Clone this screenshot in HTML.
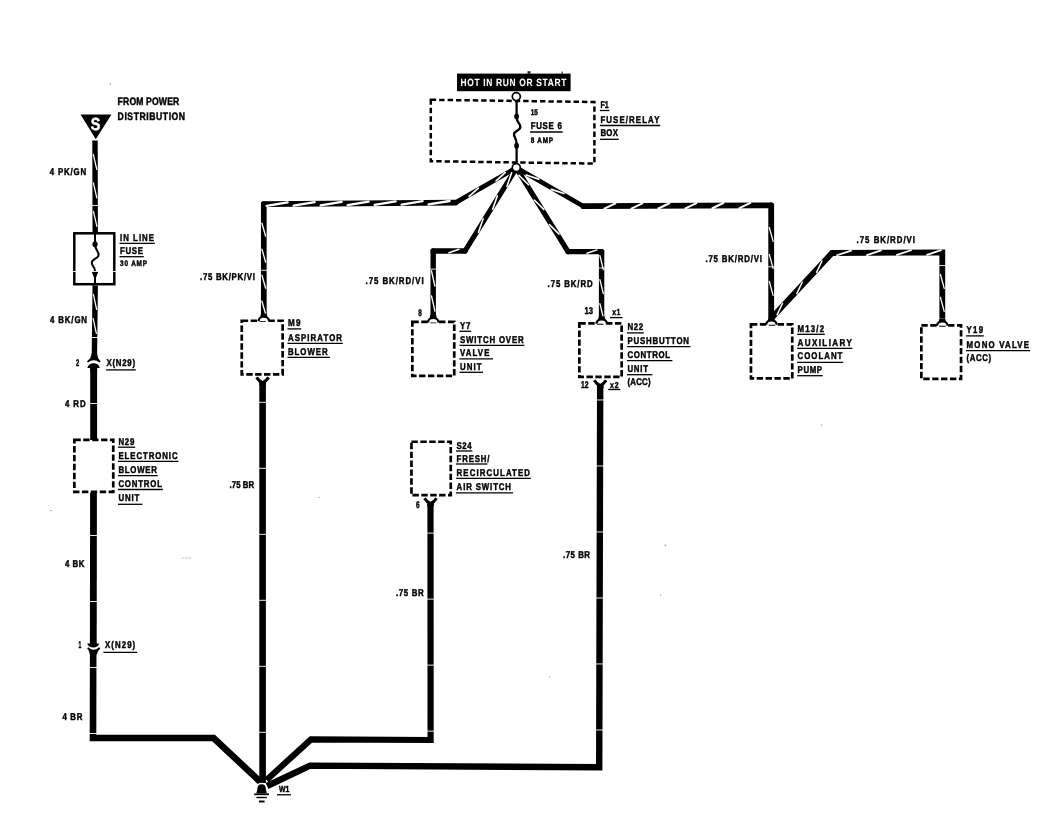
<!DOCTYPE html>
<html lang="en"><head><meta charset="utf-8"><title>Wiring diagram</title>
<style>html,body{margin:0;padding:0;background:#fff}svg{display:block;will-change:transform}</style></head>
<body>
<svg width="1037" height="825" viewBox="0 0 1037 825" font-family="'Liberation Sans', sans-serif" font-weight="bold" text-rendering="geometricPrecision">
<rect width="1037" height="825" fill="#fff"/>
<polygon points="80.6,114.4 111.4,114.4 95.8,139.2" fill="#000"/>
<text x="95.6" y="130.4" font-size="17.4" text-anchor="middle" fill="#fff" stroke="#fff" stroke-width="0.5" textLength="9.6" lengthAdjust="spacingAndGlyphs">S</text>
<polyline points="95,140.4 95.2,232.5" fill="none" stroke="#000" stroke-width="5.4" stroke-linejoin="miter" stroke-linecap="butt"/>
<line x1="93.33" y1="154.4" x2="96.76" y2="169.4" stroke="#fff" stroke-width="1.25" stroke-linecap="round"/>
<line x1="93.39" y1="182.9" x2="96.82" y2="197.9" stroke="#fff" stroke-width="1.25" stroke-linecap="round"/>
<line x1="93.45" y1="211.4" x2="96.89" y2="226.4" stroke="#fff" stroke-width="1.25" stroke-linecap="round"/>
<line x1="90.6" y1="205.49" x2="99.6" y2="205.49" stroke="#fff" stroke-width="0.9"/>
<rect x="74.3" y="233.3" width="40" height="50.9" fill="none" stroke="#000" stroke-width="2.5"/>
<path d="M95,234 L95,244 C95,250 98.8,251 98.6,255 C98.4,259 91.6,258.5 91.8,263 C92,267 95,266.5 95,271 L95,284" fill="none" stroke="#000" stroke-width="2"/>
<ellipse cx="95" cy="244.2" rx="2.6" ry="3"/>
<path d="M92.2,271.6 L97.8,271.6 L95.4,277.8 L94.6,277.8 Z" stroke="#000" stroke-width="1" stroke-linejoin="round"/>
<line x1="73" y1="271.49" x2="117" y2="271.49" stroke="#fff" stroke-width="0.9"/>
<polyline points="95.2,285.4 94.4,356" fill="none" stroke="#000" stroke-width="5.4" stroke-linejoin="miter" stroke-linecap="butt"/>
<line x1="93.4" y1="294.38" x2="96.63" y2="309.42" stroke="#fff" stroke-width="1.25" stroke-linecap="round"/>
<line x1="93.13" y1="318.38" x2="96.36" y2="333.42" stroke="#fff" stroke-width="1.25" stroke-linecap="round"/>
<line x1="90.3" y1="337.49" x2="99.3" y2="337.49" stroke="#fff" stroke-width="0.9"/>
<path d="M91.7,353 Q91.6,358 86.9,361.4 L88.1,362.6 Q93.7,357.8 99.5,362.6 L100.6,361.4 Q97.2,358 97.1,353 Z" fill="#000"/>
<path d="M87.3,368 Q88.5,363.4 93.6,363.3 Q98.9,363.4 99.8,368 L97.1,368 L97.1,372 L90.2,372 L90.2,368 Z" fill="#000"/>
<polyline points="93.65,368 93.65,440" fill="none" stroke="#000" stroke-width="6.9" stroke-linejoin="miter" stroke-linecap="butt"/>
<line x1="89.15" y1="403.5" x2="98.15" y2="403.5" stroke="#fff" stroke-width="0.9"/>
<rect x="74.35" y="439.95" width="38.9" height="51.9" fill="none" stroke="#000" stroke-width="2.7" stroke-dasharray="6.4 2.5"/>
<polyline points="93.5,492.5 93.3,644.5" fill="none" stroke="#000" stroke-width="6.8" stroke-linejoin="miter" stroke-linecap="butt"/>
<line x1="88.9" y1="535.5" x2="97.9" y2="535.5" stroke="#fff" stroke-width="0.9"/>
<line x1="88.9" y1="601.5" x2="97.9" y2="601.5" stroke="#fff" stroke-width="0.9"/>
<path d="M87.2,643.4 L99.2,643.4 Q98,647.3 93.4,647.4 Q88.4,647.3 87.2,643.4 Z" fill="#000"/>
<path d="M87.2,648.5 L88.4,647.3 Q93.6,652.3 99,647.3 L100.3,648.6 Q97,651.4 96.8,654.5 L90,654.5 Q89.9,651.4 87.2,648.5 Z" fill="#000"/>
<polyline points="93.2,652 93,738 213.6,738 260.5,782" fill="none" stroke="#000" stroke-width="6.6" stroke-linejoin="miter" stroke-linecap="butt"/>
<line x1="88.6" y1="667.51" x2="97.6" y2="667.51" stroke="#fff" stroke-width="0.9"/>
<line x1="88.6" y1="733.51" x2="97.6" y2="733.51" stroke="#fff" stroke-width="0.9"/>
<rect x="457" y="73.6" width="113.6" height="17.6" fill="#000"/>
<polygon points="430.8,99.8 594.4,102 594.4,163.6 430.8,161.2" fill="none" stroke="#000" stroke-width="2.5" stroke-dasharray="5.4 3"/>
<line x1="516.6" y1="100" x2="516.6" y2="164" stroke="#000" stroke-width="2.3"/>
<path d="M516.6,118 C516.6,123 520.4,123.5 520.2,127 C520,131 514,130.5 514.2,134.5 C514.4,138 516.6,138 516.6,143" fill="none" stroke="#000" stroke-width="2"/>
<rect x="514" y="117.5" width="5.2" height="26" fill="#fff"/>
<path d="M516.6,117 C516.6,123 520.6,123.5 520.4,127 C520.2,131 513.8,130.5 514,134.5 C514.2,138 516.6,138 516.6,144" fill="none" stroke="#000" stroke-width="2.3"/>
<ellipse cx="516.6" cy="116.4" rx="2.4" ry="3"/>
<ellipse cx="516.6" cy="145.8" rx="2.4" ry="3"/>
<line x1="514.5" y1="168.8" x2="455.6" y2="202.6" stroke="#000" stroke-width="4.7" stroke-linecap="round"/>
<line x1="455.6" y1="202.6" x2="263.8" y2="204.2" stroke="#000" stroke-width="5.7" stroke-linecap="round"/>
<line x1="263.8" y1="204.2" x2="263.8" y2="315" stroke="#000" stroke-width="5.7" stroke-linecap="round"/>
<line x1="505.15" y1="172.61" x2="496.09" y2="180.92" stroke="#fff" stroke-width="1.7" stroke-linecap="round"/>
<line x1="478.27" y1="188.04" x2="469.2" y2="196.35" stroke="#fff" stroke-width="1.7" stroke-linecap="round"/>
<line x1="449.59" y1="201" x2="428.61" y2="204.48" stroke="#fff" stroke-width="2.3" stroke-linecap="round"/>
<line x1="422.59" y1="201.23" x2="401.62" y2="204.7" stroke="#fff" stroke-width="2.3" stroke-linecap="round"/>
<line x1="395.59" y1="201.45" x2="374.62" y2="204.93" stroke="#fff" stroke-width="2.3" stroke-linecap="round"/>
<line x1="368.59" y1="201.68" x2="347.62" y2="205.15" stroke="#fff" stroke-width="2.3" stroke-linecap="round"/>
<line x1="341.59" y1="201.9" x2="320.62" y2="205.38" stroke="#fff" stroke-width="2.3" stroke-linecap="round"/>
<line x1="314.59" y1="202.13" x2="293.62" y2="205.6" stroke="#fff" stroke-width="2.3" stroke-linecap="round"/>
<line x1="287.59" y1="202.35" x2="266.62" y2="205.83" stroke="#fff" stroke-width="2.3" stroke-linecap="round"/>
<line x1="261.95" y1="223.2" x2="265.65" y2="236.2" stroke="#fff" stroke-width="1.3" stroke-linecap="round"/>
<line x1="261.95" y1="249.2" x2="265.65" y2="262.2" stroke="#fff" stroke-width="1.3" stroke-linecap="round"/>
<line x1="261.95" y1="275.2" x2="265.65" y2="288.2" stroke="#fff" stroke-width="1.3" stroke-linecap="round"/>
<line x1="261.95" y1="301.2" x2="265.65" y2="314.2" stroke="#fff" stroke-width="1.3" stroke-linecap="round"/>
<line x1="259.3" y1="270.31" x2="268.3" y2="270.31" stroke="#fff" stroke-width="0.9"/>
<line x1="515.6" y1="169.4" x2="465" y2="251" stroke="#000" stroke-width="5.2" stroke-linecap="round"/>
<line x1="465" y1="251" x2="433.2" y2="251" stroke="#000" stroke-width="5.4" stroke-linecap="round"/>
<line x1="433.2" y1="251" x2="433.2" y2="316" stroke="#000" stroke-width="5.4" stroke-linecap="round"/>
<line x1="511.61" y1="172.81" x2="506.95" y2="186.39" stroke="#fff" stroke-width="1.6" stroke-linecap="round"/>
<line x1="497.38" y1="195.75" x2="492.72" y2="209.34" stroke="#fff" stroke-width="1.6" stroke-linecap="round"/>
<line x1="483.15" y1="218.7" x2="478.49" y2="232.28" stroke="#fff" stroke-width="1.6" stroke-linecap="round"/>
<line x1="459" y1="249.3" x2="449" y2="252.7" stroke="#fff" stroke-width="1.5" stroke-linecap="round"/>
<line x1="431.5" y1="271" x2="434.9" y2="286" stroke="#fff" stroke-width="1.3" stroke-linecap="round"/>
<line x1="431.5" y1="296" x2="434.9" y2="311" stroke="#fff" stroke-width="1.3" stroke-linecap="round"/>
<line x1="428.7" y1="269.13" x2="437.7" y2="269.13" stroke="#fff" stroke-width="0.9"/>
<line x1="517.2" y1="169.4" x2="568" y2="251.6" stroke="#000" stroke-width="5.2" stroke-linecap="round"/>
<line x1="568" y1="251.6" x2="601.6" y2="251.6" stroke="#000" stroke-width="5.4" stroke-linecap="round"/>
<line x1="601.6" y1="251.6" x2="601.6" y2="317" stroke="#000" stroke-width="5.4" stroke-linecap="round"/>
<line x1="518.99" y1="175.35" x2="528.55" y2="184.72" stroke="#fff" stroke-width="1.6" stroke-linecap="round"/>
<line x1="534.24" y1="200.01" x2="543.8" y2="209.39" stroke="#fff" stroke-width="1.6" stroke-linecap="round"/>
<line x1="549.48" y1="224.68" x2="559.04" y2="234.06" stroke="#fff" stroke-width="1.6" stroke-linecap="round"/>
<line x1="587" y1="253.3" x2="597" y2="249.9" stroke="#fff" stroke-width="1.5" stroke-linecap="round"/>
<line x1="599.9" y1="255.6" x2="603.3" y2="269.6" stroke="#fff" stroke-width="1.3" stroke-linecap="round"/>
<line x1="599.9" y1="279.6" x2="603.3" y2="293.6" stroke="#fff" stroke-width="1.3" stroke-linecap="round"/>
<line x1="599.9" y1="303.6" x2="603.3" y2="317.6" stroke="#fff" stroke-width="1.3" stroke-linecap="round"/>
<line x1="597.1" y1="267.95" x2="606.1" y2="267.95" stroke="#fff" stroke-width="0.9"/>
<line x1="518.2" y1="168.8" x2="583.4" y2="206.2" stroke="#000" stroke-width="4.7" stroke-linecap="round"/>
<line x1="583.4" y1="206.2" x2="771.2" y2="205.4" stroke="#000" stroke-width="5.8" stroke-linecap="round"/>
<line x1="771.2" y1="205.4" x2="771.2" y2="317" stroke="#000" stroke-width="5.8" stroke-linecap="round"/>
<line x1="526.2" y1="174.95" x2="538.82" y2="179.07" stroke="#fff" stroke-width="1.7" stroke-linecap="round"/>
<line x1="551.36" y1="189.38" x2="563.98" y2="193.5" stroke="#fff" stroke-width="1.7" stroke-linecap="round"/>
<line x1="604.41" y1="208.71" x2="615.39" y2="203.46" stroke="#fff" stroke-width="2.0" stroke-linecap="round"/>
<line x1="631.41" y1="208.6" x2="642.39" y2="203.35" stroke="#fff" stroke-width="2.0" stroke-linecap="round"/>
<line x1="658.41" y1="208.48" x2="669.39" y2="203.23" stroke="#fff" stroke-width="2.0" stroke-linecap="round"/>
<line x1="685.41" y1="208.37" x2="696.39" y2="203.12" stroke="#fff" stroke-width="2.0" stroke-linecap="round"/>
<line x1="712.41" y1="208.25" x2="723.39" y2="203" stroke="#fff" stroke-width="2.0" stroke-linecap="round"/>
<line x1="739.41" y1="208.14" x2="750.39" y2="202.89" stroke="#fff" stroke-width="2.0" stroke-linecap="round"/>
<line x1="769.3" y1="227.4" x2="773.1" y2="241.4" stroke="#fff" stroke-width="1.3" stroke-linecap="round"/>
<line x1="769.3" y1="254.4" x2="773.1" y2="268.4" stroke="#fff" stroke-width="1.3" stroke-linecap="round"/>
<line x1="769.3" y1="281.4" x2="773.1" y2="295.4" stroke="#fff" stroke-width="1.3" stroke-linecap="round"/>
<line x1="766.7" y1="266.76" x2="775.7" y2="266.76" stroke="#fff" stroke-width="0.9"/>
<polyline points="771.6,318 832,253 942.3,252.4 942.3,318" fill="none" stroke="#000" stroke-width="5.8" stroke-linejoin="miter" stroke-linecap="butt"/>
<line x1="777.08" y1="314.9" x2="782.46" y2="303.52" stroke="#fff" stroke-width="1.5" stroke-linecap="round"/>
<line x1="796.82" y1="293.65" x2="802.2" y2="282.28" stroke="#fff" stroke-width="1.5" stroke-linecap="round"/>
<line x1="816.56" y1="272.41" x2="821.94" y2="261.03" stroke="#fff" stroke-width="1.5" stroke-linecap="round"/>
<line x1="837.01" y1="255.27" x2="850.99" y2="250.6" stroke="#fff" stroke-width="1.8" stroke-linecap="round"/>
<line x1="867.01" y1="255.11" x2="880.99" y2="250.43" stroke="#fff" stroke-width="1.8" stroke-linecap="round"/>
<line x1="897.01" y1="254.95" x2="910.99" y2="250.27" stroke="#fff" stroke-width="1.8" stroke-linecap="round"/>
<line x1="927.01" y1="254.78" x2="940.99" y2="250.11" stroke="#fff" stroke-width="1.8" stroke-linecap="round"/>
<line x1="940.4" y1="274.4" x2="944.2" y2="288.4" stroke="#fff" stroke-width="1.3" stroke-linecap="round"/>
<line x1="940.4" y1="297.4" x2="944.2" y2="311.4" stroke="#fff" stroke-width="1.3" stroke-linecap="round"/>
<line x1="937.8" y1="265.56" x2="946.8" y2="265.56" stroke="#fff" stroke-width="0.9"/>
<circle cx="516.3" cy="96.6" r="4" fill="#fff" stroke="#000" stroke-width="1.7"/>
<circle cx="516.3" cy="167.6" r="4" fill="#fff" stroke="#000" stroke-width="1.7"/>
<rect x="241.75" y="320.75" width="40.9" height="53.7" fill="none" stroke="#000" stroke-width="2.7" stroke-dasharray="6.4 2.5"/>
<rect x="412.35" y="321.95" width="41.9" height="53.9" fill="none" stroke="#000" stroke-width="2.7" stroke-dasharray="6.4 2.5"/>
<rect x="411.45" y="441.75" width="39.3" height="53.4" fill="none" stroke="#000" stroke-width="2.7" stroke-dasharray="6.4 2.5"/>
<rect x="579.35" y="323.35" width="42.3" height="53.5" fill="none" stroke="#000" stroke-width="2.7" stroke-dasharray="6.4 2.5"/>
<rect x="750.95" y="324.35" width="41.3" height="54.1" fill="none" stroke="#000" stroke-width="2.7" stroke-dasharray="6.4 2.5"/>
<rect x="921.35" y="325.35" width="39.7" height="53.5" fill="none" stroke="#000" stroke-width="2.7" stroke-dasharray="6.4 2.5"/>
<path d="M258.6,321.2 C258.6,315.2 269,315.2 269,321.2" fill="#fff" stroke="#000" stroke-width="2.2"/>
<path d="M261,313.6 L260.2,317 L267.4,317 L266.6,313.6 Z" fill="#000"/>
<path d="M428,322.4 C428,316.4 438.4,316.4 438.4,322.4" fill="#fff" stroke="#000" stroke-width="2.2"/>
<path d="M430.4,314.8 L429.6,318.2 L436.8,318.2 L436,314.8 Z" fill="#000"/>
<path d="M596.5,323.8 C596.5,317.8 606.9,317.8 606.9,323.8" fill="#fff" stroke="#000" stroke-width="2.2"/>
<path d="M598.9,316.2 L598.1,319.6 L605.3,319.6 L604.5,316.2 Z" fill="#000"/>
<path d="M766.2,324.8 C766.2,318.8 776.6,318.8 776.6,324.8" fill="#fff" stroke="#000" stroke-width="2.2"/>
<path d="M768.6,317.2 L767.8,320.6 L775,320.6 L774.2,317.2 Z" fill="#000"/>
<path d="M937.1,325.8 C937.1,319.8 947.5,319.8 947.5,325.8" fill="#fff" stroke="#000" stroke-width="2.2"/>
<path d="M939.5,318.2 L938.7,321.6 L945.9,321.6 L945.1,318.2 Z" fill="#000"/>
<path d="M256.6,377.4 Q259,381.2 262.6,382.8 Q266.2,381.2 268.6,377.4" fill="none" stroke="#000" stroke-width="3" stroke-linecap="butt"/>
<rect x="259.3" y="381.4" width="6.6" height="4" fill="#000"/>
<polyline points="262.6,383.5 262.6,783" fill="none" stroke="#000" stroke-width="6.6" stroke-linejoin="miter" stroke-linecap="butt"/>
<line x1="258.1" y1="402.32" x2="267.1" y2="402.32" stroke="#fff" stroke-width="0.9"/>
<line x1="258.1" y1="468.32" x2="267.1" y2="468.32" stroke="#fff" stroke-width="0.9"/>
<line x1="258.1" y1="534.32" x2="267.1" y2="534.32" stroke="#fff" stroke-width="0.9"/>
<line x1="258.1" y1="600.32" x2="267.1" y2="600.32" stroke="#fff" stroke-width="0.9"/>
<line x1="258.1" y1="666.32" x2="267.1" y2="666.32" stroke="#fff" stroke-width="0.9"/>
<line x1="258.1" y1="732.32" x2="267.1" y2="732.32" stroke="#fff" stroke-width="0.9"/>
<path d="M424.5,498.2 Q426.9,502 430.5,503.6 Q434.1,502 436.5,498.2" fill="none" stroke="#000" stroke-width="3" stroke-linecap="butt"/>
<rect x="427.2" y="502.2" width="6.6" height="4" fill="#000"/>
<polyline points="430.5,504 430.6,740 311,739.4 266.5,780" fill="none" stroke="#000" stroke-width="6.2" stroke-linejoin="miter" stroke-linecap="butt"/>
<line x1="426.05" y1="533.14" x2="435.05" y2="533.14" stroke="#fff" stroke-width="0.9"/>
<line x1="426.05" y1="599.14" x2="435.05" y2="599.14" stroke="#fff" stroke-width="0.9"/>
<line x1="426.05" y1="665.14" x2="435.05" y2="665.14" stroke="#fff" stroke-width="0.9"/>
<line x1="426.05" y1="731.14" x2="435.05" y2="731.14" stroke="#fff" stroke-width="0.9"/>
<path d="M594.2,380.2 Q596.6,384 600.2,385.6 Q603.8,384 606.2,380.2" fill="none" stroke="#000" stroke-width="3" stroke-linecap="butt"/>
<rect x="596.9" y="384.2" width="6.6" height="4" fill="#000"/>
<polyline points="600.2,386 599.2,767.2 310,765.6 267,786" fill="none" stroke="#000" stroke-width="6.4" stroke-linejoin="miter" stroke-linecap="butt"/>
<line x1="595.2" y1="399.96" x2="604.2" y2="399.96" stroke="#fff" stroke-width="0.9"/>
<line x1="595.2" y1="465.96" x2="604.2" y2="465.96" stroke="#fff" stroke-width="0.9"/>
<line x1="595.2" y1="531.96" x2="604.2" y2="531.96" stroke="#fff" stroke-width="0.9"/>
<line x1="595.2" y1="597.96" x2="604.2" y2="597.96" stroke="#fff" stroke-width="0.9"/>
<line x1="595.2" y1="663.96" x2="604.2" y2="663.96" stroke="#fff" stroke-width="0.9"/>
<line x1="595.2" y1="729.96" x2="604.2" y2="729.96" stroke="#fff" stroke-width="0.9"/>
<path d="M256.3,793.4 L257.3,789.4 Q257.3,784.2 261.6,784.2 Q265.9,784.2 265.9,789.4 L266.9,793.4 Z" fill="#000" stroke="#fff" stroke-width="3" paint-order="stroke"/>
<line x1="254.2" y1="794.3" x2="269" y2="794.3" stroke="#000" stroke-width="1.7"/>
<line x1="256.4" y1="797.5" x2="266.8" y2="797.5" stroke="#000" stroke-width="1.4"/>
<line x1="259" y1="801.5" x2="264.6" y2="801.5" stroke="#000" stroke-width="1.9"/>
<circle cx="110.3" cy="83.8" r="0.6" fill="#555"/>
<circle cx="821.7" cy="425" r="0.6" fill="#555"/>
<circle cx="51" cy="510.5" r="0.6" fill="#555"/>
<circle cx="319" cy="497.5" r="0.5" fill="#555"/>
<circle cx="665.2" cy="545.2" r="0.6" fill="#555"/>
<circle cx="660.6" cy="595" r="0.5" fill="#555"/>
<circle cx="549.6" cy="676.8" r="0.5" fill="#555"/>
<line x1="181.5" y1="558" x2="191" y2="558" stroke="#999" stroke-width="0.6" stroke-dasharray="2.4 1"/>
<rect x="527.5" y="71.2" width="3" height="2.6" fill="#222"/>
<rect x="561.6" y="71.6" width="1.2" height="2.2" fill="#222"/>
<text transform="translate(460.6,86.4) scale(0.8,1)" font-size="10.5" textLength="132.25" lengthAdjust="spacing" fill="#fff" stroke="#fff" stroke-width="0.1">HOT IN RUN OR START</text>
<text transform="translate(117.6,105.4) scale(0.8,1)" font-size="10.8" textLength="77.13" lengthAdjust="spacing" fill="#000" stroke="#000" stroke-width="0.45">FROM POWER</text>
<text transform="translate(117.6,119.6) scale(0.8,1)" font-size="10.8" textLength="84.38" lengthAdjust="spacing" fill="#000" stroke="#000" stroke-width="0.45">DISTRIBUTION</text>
<text transform="translate(49.7,174.8) scale(0.8,1)" font-size="9.8" textLength="45.62" lengthAdjust="spacing" fill="#000" stroke="#000" stroke-width="0.45">4 PK/GN</text>
<text transform="translate(120,240.8) scale(0.8,1)" font-size="9.8" textLength="42.5" lengthAdjust="spacing" fill="#000" stroke="#000" stroke-width="0.45">IN LINE</text>
<line x1="119.5" y1="243.3" x2="154.8" y2="243.3" stroke="#000" stroke-width="1.3"/>
<text transform="translate(120,254.2) scale(0.8,1)" font-size="9.8" textLength="28.75" lengthAdjust="spacing" fill="#000" stroke="#000" stroke-width="0.45">FUSE</text>
<line x1="119.5" y1="256.7" x2="143.8" y2="256.7" stroke="#000" stroke-width="1.3"/>
<text transform="translate(120,265.8) scale(0.8,1)" font-size="8.0" textLength="33.75" lengthAdjust="spacing" fill="#000" stroke="#000" stroke-width="0.45">30 AMP</text>
<text transform="translate(50,323.4) scale(0.8,1)" font-size="9.8" textLength="46.25" lengthAdjust="spacing" fill="#000" stroke="#000" stroke-width="0.45">4 BK/GN</text>
<text transform="translate(76,366) scale(0.59,1)" font-size="9.8" fill="#000" stroke="#000" stroke-width="0.45">2</text>
<text transform="translate(106.6,366.4) scale(0.8,1)" font-size="9.8" textLength="35.5" lengthAdjust="spacing" fill="#000" stroke="#000" stroke-width="0.45">X(N29)</text>
<line x1="106.1" y1="369.9" x2="135.8" y2="369.9" stroke="#000" stroke-width="1.3"/>
<text transform="translate(65,406.8) scale(0.8,1)" font-size="9.8" textLength="25.75" lengthAdjust="spacing" fill="#000" stroke="#000" stroke-width="0.45">4 RD</text>
<text transform="translate(118.4,445) scale(0.8,1)" font-size="9.8" textLength="20" lengthAdjust="spacing" fill="#000" stroke="#000" stroke-width="0.45">N29</text>
<line x1="117.9" y1="447.2" x2="135.2" y2="447.2" stroke="#000" stroke-width="1.3"/>
<text transform="translate(118.4,458.8) scale(0.8,1)" font-size="9.8" textLength="74" lengthAdjust="spacing" fill="#000" stroke="#000" stroke-width="0.45">ELECTRONIC</text>
<line x1="117.9" y1="461.3" x2="178.4" y2="461.3" stroke="#000" stroke-width="1.3"/>
<text transform="translate(118.4,472.8) scale(0.8,1)" font-size="9.8" textLength="48.25" lengthAdjust="spacing" fill="#000" stroke="#000" stroke-width="0.45">BLOWER</text>
<line x1="117.9" y1="475.7" x2="157.8" y2="475.7" stroke="#000" stroke-width="1.3"/>
<text transform="translate(118.4,486.8) scale(0.8,1)" font-size="9.8" textLength="54.5" lengthAdjust="spacing" fill="#000" stroke="#000" stroke-width="0.45">CONTROL</text>
<line x1="117.9" y1="489.5" x2="162.8" y2="489.5" stroke="#000" stroke-width="1.3"/>
<text transform="translate(118.4,501.2) scale(0.8,1)" font-size="9.8" textLength="26.25" lengthAdjust="spacing" fill="#000" stroke="#000" stroke-width="0.45">UNIT</text>
<line x1="118" y1="504.3" x2="142.5" y2="504.3" stroke="#000" stroke-width="1.3"/>
<text transform="translate(65,567.4) scale(0.8,1)" font-size="9.8" textLength="24.25" lengthAdjust="spacing" fill="#000" stroke="#000" stroke-width="0.45">4 BK</text>
<text transform="translate(78.4,648.2) scale(0.51,1)" font-size="9.8" fill="#000" stroke="#000" stroke-width="0.45">1</text>
<text transform="translate(105,648.4) scale(0.8,1)" font-size="9.8" textLength="37.75" lengthAdjust="spacing" fill="#000" stroke="#000" stroke-width="0.45">X(N29)</text>
<line x1="103.4" y1="652.3" x2="137.2" y2="652.3" stroke="#000" stroke-width="1.3"/>
<text transform="translate(62.4,720.4) scale(0.8,1)" font-size="9.8" textLength="25" lengthAdjust="spacing" fill="#000" stroke="#000" stroke-width="0.45">4 BR</text>
<text transform="translate(279,792.2) scale(0.78,1)" font-size="8.8" textLength="13.3" lengthAdjust="spacing" fill="#000" stroke="#000" stroke-width="0.45">W1</text>
<line x1="277" y1="794.8" x2="291" y2="794.8" stroke="#000" stroke-width="1.3"/>
<text transform="translate(200,280.4) scale(0.8,1)" font-size="9.8" textLength="68.75" lengthAdjust="spacing" fill="#000" stroke="#000" stroke-width="0.45">.75 BK/PK/VI</text>
<text transform="translate(288,326.4) scale(0.82,1)" font-size="9.8" textLength="15.31" lengthAdjust="spacing" fill="#000" stroke="#000" stroke-width="0.45">M9</text>
<line x1="287.5" y1="328.9" x2="301.3" y2="328.9" stroke="#000" stroke-width="1.3"/>
<text transform="translate(288,340.8) scale(0.8,1)" font-size="9.8" textLength="67.5" lengthAdjust="spacing" fill="#000" stroke="#000" stroke-width="0.45">ASPIRATOR</text>
<line x1="287.5" y1="343.3" x2="342.8" y2="343.3" stroke="#000" stroke-width="1.3"/>
<text transform="translate(288,354.6) scale(0.8,1)" font-size="9.8" textLength="49.5" lengthAdjust="spacing" fill="#000" stroke="#000" stroke-width="0.45">BLOWER</text>
<line x1="287.5" y1="357.3" x2="330" y2="357.3" stroke="#000" stroke-width="1.3"/>
<text transform="translate(229.6,487.8) scale(0.79,1)" font-size="9.8" textLength="31" lengthAdjust="spacing" fill="#000" stroke="#000" stroke-width="0.45">.75 BR</text>
<text transform="translate(365.6,284.2) scale(0.8,1)" font-size="9.8" textLength="72.5" lengthAdjust="spacing" fill="#000" stroke="#000" stroke-width="0.45">.75 BK/RD/VI</text>
<text transform="translate(418.2,315.8) scale(0.66,1)" font-size="9.8" fill="#000" stroke="#000" stroke-width="0.45">8</text>
<text transform="translate(460,328.8) scale(0.8,1)" font-size="9.8" textLength="13" lengthAdjust="spacing" fill="#000" stroke="#000" stroke-width="0.45">Y7</text>
<line x1="459.5" y1="331.3" x2="471.2" y2="331.3" stroke="#000" stroke-width="1.3"/>
<text transform="translate(460,342.8) scale(0.8,1)" font-size="9.8" textLength="79.5" lengthAdjust="spacing" fill="#000" stroke="#000" stroke-width="0.45">SWITCH OVER</text>
<line x1="459.5" y1="345.3" x2="524.4" y2="345.3" stroke="#000" stroke-width="1.3"/>
<text transform="translate(460,356.2) scale(0.8,1)" font-size="9.8" textLength="36.75" lengthAdjust="spacing" fill="#000" stroke="#000" stroke-width="0.45">VALVE</text>
<line x1="459.5" y1="358.9" x2="493" y2="358.9" stroke="#000" stroke-width="1.3"/>
<text transform="translate(460,369.6) scale(0.8,1)" font-size="9.8" textLength="27" lengthAdjust="spacing" fill="#000" stroke="#000" stroke-width="0.45">UNIT</text>
<line x1="459.5" y1="372.3" x2="483" y2="372.3" stroke="#000" stroke-width="1.3"/>
<text transform="translate(456.6,448.8) scale(0.8,1)" font-size="9.8" textLength="18.75" lengthAdjust="spacing" fill="#000" stroke="#000" stroke-width="0.45">S24</text>
<line x1="456.1" y1="451" x2="472.4" y2="451" stroke="#000" stroke-width="1.3"/>
<text transform="translate(456.6,461.8) scale(0.8,1)" font-size="9.8" textLength="41" lengthAdjust="spacing" fill="#000" stroke="#000" stroke-width="0.45">FRESH/</text>
<line x1="456" y1="464" x2="487.4" y2="464" stroke="#000" stroke-width="1.3"/>
<text transform="translate(456.6,475.6) scale(0.8,1)" font-size="9.8" textLength="91.75" lengthAdjust="spacing" fill="#000" stroke="#000" stroke-width="0.45">RECIRCULATED</text>
<line x1="456.1" y1="478.3" x2="530.8" y2="478.3" stroke="#000" stroke-width="1.3"/>
<text transform="translate(456.6,489.8) scale(0.8,1)" font-size="9.8" textLength="68" lengthAdjust="spacing" fill="#000" stroke="#000" stroke-width="0.45">AIR SWITCH</text>
<line x1="456" y1="492.9" x2="513" y2="492.9" stroke="#000" stroke-width="1.3"/>
<text transform="translate(416,507.8) scale(0.66,1)" font-size="9.8" fill="#000" stroke="#000" stroke-width="0.45">6</text>
<text transform="translate(396,595.8) scale(0.8,1)" font-size="9.8" textLength="34.5" lengthAdjust="spacing" fill="#000" stroke="#000" stroke-width="0.45">.75 BR</text>
<text transform="translate(547.6,287.4) scale(0.8,1)" font-size="9.8" textLength="56.25" lengthAdjust="spacing" fill="#000" stroke="#000" stroke-width="0.45">.75 BK/RD</text>
<text transform="translate(584.4,314.2) scale(0.78,1)" font-size="9.8" textLength="11" lengthAdjust="spacing" fill="#000" stroke="#000" stroke-width="0.45">13</text>
<text transform="translate(612.2,315.2) scale(0.8,1)" font-size="8.6" textLength="10.12" lengthAdjust="spacing" fill="#000" stroke="#000" stroke-width="0.45">x1</text>
<line x1="610" y1="317.6" x2="622.5" y2="317.6" stroke="#000" stroke-width="1.3"/>
<text transform="translate(581,388.2) scale(0.69,1)" font-size="9.8" textLength="11" lengthAdjust="spacing" fill="#000" stroke="#000" stroke-width="0.45">12</text>
<text transform="translate(610,387.6) scale(0.8,1)" font-size="8.6" textLength="10.75" lengthAdjust="spacing" fill="#000" stroke="#000" stroke-width="0.45">x2</text>
<line x1="608.2" y1="389.5" x2="620.4" y2="389.5" stroke="#000" stroke-width="1.3"/>
<text transform="translate(627.4,330.4) scale(0.8,1)" font-size="9.8" textLength="19.5" lengthAdjust="spacing" fill="#000" stroke="#000" stroke-width="0.45">N22</text>
<line x1="626.9" y1="332.9" x2="643.8" y2="332.9" stroke="#000" stroke-width="1.3"/>
<text transform="translate(627.4,344.2) scale(0.8,1)" font-size="9.8" textLength="77" lengthAdjust="spacing" fill="#000" stroke="#000" stroke-width="0.45">PUSHBUTTON</text>
<line x1="627" y1="346.7" x2="690.4" y2="346.7" stroke="#000" stroke-width="1.3"/>
<text transform="translate(627.4,357.8) scale(0.8,1)" font-size="9.8" textLength="53.25" lengthAdjust="spacing" fill="#000" stroke="#000" stroke-width="0.45">CONTROL</text>
<line x1="627" y1="360.7" x2="672.4" y2="360.7" stroke="#000" stroke-width="1.3"/>
<text transform="translate(627.4,371.8) scale(0.8,1)" font-size="9.8" textLength="25.75" lengthAdjust="spacing" fill="#000" stroke="#000" stroke-width="0.45">UNIT</text>
<line x1="627" y1="374.7" x2="652.4" y2="374.7" stroke="#000" stroke-width="1.3"/>
<text transform="translate(627.4,384.8) scale(0.8,1)" font-size="9.8" textLength="29" lengthAdjust="spacing" fill="#000" stroke="#000" stroke-width="0.45">(ACC)</text>
<text transform="translate(563,557.8) scale(0.8,1)" font-size="9.8" textLength="33.75" lengthAdjust="spacing" fill="#000" stroke="#000" stroke-width="0.45">.75 BR</text>
<text transform="translate(530.7,115.4) scale(0.77,1)" font-size="8.2" textLength="9.22" lengthAdjust="spacing" fill="#000" stroke="#000" stroke-width="0.45">15</text>
<text transform="translate(530.7,129.2) scale(0.8,1)" font-size="9.8" textLength="38.87" lengthAdjust="spacing" fill="#000" stroke="#000" stroke-width="0.45">FUSE 6</text>
<line x1="530" y1="132" x2="562.7" y2="132" stroke="#000" stroke-width="1.3"/>
<text transform="translate(530.7,143.2) scale(0.8,1)" font-size="8.0" textLength="27.87" lengthAdjust="spacing" fill="#000" stroke="#000" stroke-width="0.45">8 AMP</text>
<text transform="translate(600.4,108.4) scale(0.71,1)" font-size="9.8" textLength="11.54" lengthAdjust="spacing" fill="#000" stroke="#000" stroke-width="0.45">F1</text>
<line x1="599.9" y1="110.5" x2="609.4" y2="110.5" stroke="#000" stroke-width="1.3"/>
<text transform="translate(600.4,122.8) scale(0.8,1)" font-size="9.8" textLength="73.75" lengthAdjust="spacing" fill="#000" stroke="#000" stroke-width="0.45">FUSE/RELAY</text>
<line x1="599.9" y1="125.5" x2="660.2" y2="125.5" stroke="#000" stroke-width="1.3"/>
<text transform="translate(600.4,136.2) scale(0.8,1)" font-size="9.8" textLength="22" lengthAdjust="spacing" fill="#000" stroke="#000" stroke-width="0.45">BOX</text>
<line x1="599.9" y1="139.3" x2="618.8" y2="139.3" stroke="#000" stroke-width="1.3"/>
<text transform="translate(705.4,262.2) scale(0.8,1)" font-size="9.8" textLength="70.75" lengthAdjust="spacing" fill="#000" stroke="#000" stroke-width="0.45">.75 BK/RD/VI</text>
<text transform="translate(856.6,243.4) scale(0.8,1)" font-size="9.8" textLength="73" lengthAdjust="spacing" fill="#000" stroke="#000" stroke-width="0.45">.75 BK/RD/VI</text>
<text transform="translate(797.6,331.8) scale(0.8,1)" font-size="9.8" textLength="33" lengthAdjust="spacing" fill="#000" stroke="#000" stroke-width="0.45">M13/2</text>
<line x1="797.1" y1="334.3" x2="824.8" y2="334.3" stroke="#000" stroke-width="1.3"/>
<text transform="translate(797.6,345.8) scale(0.82,1)" font-size="9.8" textLength="66.05" lengthAdjust="spacing" fill="#000" stroke="#000" stroke-width="0.45">AUXILIARY</text>
<line x1="797.1" y1="348.3" x2="852.4" y2="348.3" stroke="#000" stroke-width="1.3"/>
<text transform="translate(797.6,359.4) scale(0.8,1)" font-size="9.8" textLength="56" lengthAdjust="spacing" fill="#000" stroke="#000" stroke-width="0.45">COOLANT</text>
<line x1="797.1" y1="362.3" x2="843.2" y2="362.3" stroke="#000" stroke-width="1.3"/>
<text transform="translate(797.6,372.8) scale(0.8,1)" font-size="9.8" textLength="30.5" lengthAdjust="spacing" fill="#000" stroke="#000" stroke-width="0.45">PUMP</text>
<line x1="797.1" y1="375.7" x2="822.8" y2="375.7" stroke="#000" stroke-width="1.3"/>
<text transform="translate(966.6,332.8) scale(0.8,1)" font-size="9.8" textLength="20.5" lengthAdjust="spacing" fill="#000" stroke="#000" stroke-width="0.45">Y19</text>
<line x1="966.1" y1="335.9" x2="983.8" y2="335.9" stroke="#000" stroke-width="1.3"/>
<text transform="translate(966.6,347.8) scale(0.8,1)" font-size="9.8" textLength="78" lengthAdjust="spacing" fill="#000" stroke="#000" stroke-width="0.45">MONO VALVE</text>
<line x1="966" y1="350.7" x2="1030" y2="350.7" stroke="#000" stroke-width="1.3"/>
<text transform="translate(966.6,360.8) scale(0.8,1)" font-size="9.8" textLength="30.5" lengthAdjust="spacing" fill="#000" stroke="#000" stroke-width="0.45">(ACC)</text>
</svg>
</body></html>
